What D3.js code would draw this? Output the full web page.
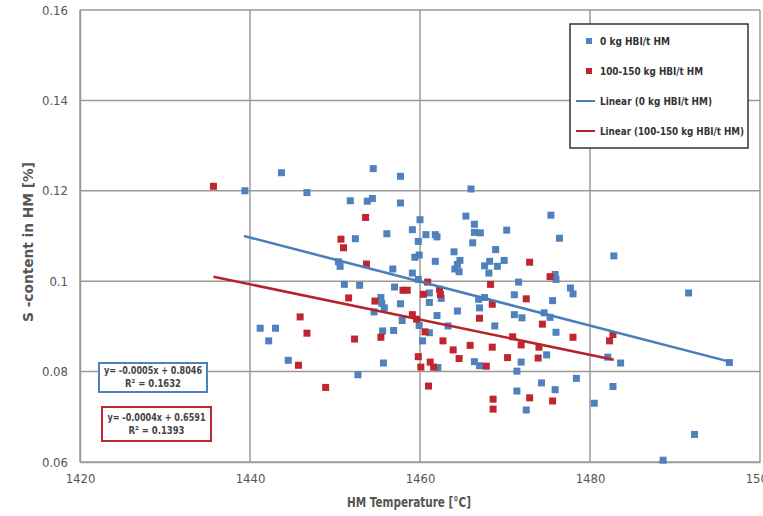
<!DOCTYPE html>
<html lang="en">
<head>
<meta charset="UTF-8">
<title>S-content in HM vs HM temperature</title>
<script src="https://d3js.org/d3.v7.min.js"></script>
<style>
    html, body {
        margin: 0;
        padding: 0;
        background: #fff;
        overflow: hidden;
    }
    svg text {
        font-family: "DejaVu Sans Condensed", "Liberation Sans Narrow", "Noto Sans", sans-serif;
    }
</style>
</head>
<body>
<svg id="chart" width="763" height="516"></svg>
<script>
// axis ticks
const xTicks = [1420, 1440, 1460, 1480, 1500];
const yTicks = [0.06, 0.08, 0.1, 0.12, 0.14, 0.16];

const seriesNames = ["0 kg HBI/t HM", "100-150 kg HBI/t HM"];
const trendNames = ["Linear (0 kg HBI/t HM)", "Linear (100-150 kg HBI/t HM)"];

// 0 kg HBI/t HM  [temperature, S %]
const zeroHBI = [
    [1439.4, 0.1200], [1443.7, 0.1240], [1446.7, 0.1196], [1454.5, 0.1249], [1457.7, 0.1232],
    [1451.8, 0.1178], [1453.8, 0.1177], [1454.4, 0.1183], [1457.7, 0.1173], [1456.1, 0.1105],
    [1452.4, 0.1094], [1450.4, 0.1043], [1450.6, 0.1033], [1456.8, 0.1027], [1451.1, 0.0993],
    [1452.9, 0.0991], [1457.0, 0.0987], [1455.4, 0.0964], [1455.5, 0.0951], [1455.8, 0.0941],
    [1454.6, 0.0932], [1441.2, 0.0896], [1443.0, 0.0896], [1442.2, 0.0868], [1455.6, 0.0890],
    [1456.9, 0.0891], [1444.5, 0.0825], [1455.7, 0.0819], [1452.7, 0.0793], [1466.0, 0.1204],
    [1475.4, 0.1146], [1465.4, 0.1144], [1466.4, 0.1126], [1460.0, 0.1136], [1459.1, 0.1114],
    [1460.7, 0.1103], [1461.8, 0.1103], [1462.0, 0.1098], [1466.4, 0.1108], [1467.1, 0.1107],
    [1470.2, 0.1113], [1476.4, 0.1095], [1459.8, 0.1088], [1466.2, 0.1085], [1459.9, 0.1058],
    [1459.4, 0.1053], [1464.0, 0.1065], [1468.9, 0.1070], [1461.8, 0.1044], [1464.7, 0.1046],
    [1464.4, 0.1037], [1464.1, 0.1027], [1464.6, 0.1021], [1468.2, 0.1044], [1467.6, 0.1034],
    [1469.1, 0.1033], [1469.9, 0.1046], [1468.1, 0.1018], [1459.1, 0.1018], [1475.9, 0.1015],
    [1476.0, 0.1004], [1459.8, 0.1004], [1471.6, 0.0998], [1471.1, 0.0970], [1477.7, 0.0985],
    [1478.0, 0.0972], [1466.9, 0.0960], [1467.6, 0.0964], [1475.6, 0.0957], [1461.1, 0.0974],
    [1462.5, 0.0962], [1457.7, 0.0950], [1457.9, 0.0913], [1459.9, 0.0902], [1462.0, 0.0924],
    [1464.4, 0.0934], [1461.1, 0.0953], [1467.0, 0.0941], [1471.1, 0.0926], [1472.0, 0.0919],
    [1474.6, 0.0930], [1475.3, 0.0920], [1468.8, 0.0901], [1463.3, 0.0901], [1461.1, 0.0886],
    [1460.3, 0.0868], [1476.0, 0.0887], [1474.9, 0.0837], [1471.9, 0.0821], [1471.4, 0.0801],
    [1466.4, 0.0822], [1467.0, 0.0813], [1462.1, 0.0809], [1478.4, 0.0785], [1474.3, 0.0775],
    [1475.9, 0.0760], [1471.4, 0.0757], [1472.5, 0.0715], [1482.8, 0.1056], [1491.6, 0.0974],
    [1482.1, 0.0832], [1483.6, 0.0819], [1496.4, 0.0820], [1482.7, 0.0767], [1480.5, 0.0730],
    [1492.3, 0.0661], [1488.6, 0.0604]
];

// 100-150 kg HBI/t HM  [temperature, S %]
const hbi100 = [
    [1435.7, 0.1210], [1453.6, 0.1141], [1450.7, 0.1093], [1451.0, 0.1074], [1453.7, 0.1038],
    [1451.6, 0.0963], [1454.7, 0.0956], [1445.9, 0.0921], [1446.7, 0.0885], [1452.3, 0.0872],
    [1455.4, 0.0876], [1445.7, 0.0814], [1448.9, 0.0765], [1472.9, 0.1042], [1475.3, 0.1010],
    [1460.9, 0.0998], [1458.0, 0.0980], [1458.5, 0.0980], [1462.3, 0.0982], [1462.4, 0.0971],
    [1460.4, 0.0971], [1468.3, 0.0993], [1472.5, 0.0961], [1468.5, 0.0949], [1459.1, 0.0926],
    [1459.6, 0.0916], [1467.0, 0.0918], [1474.4, 0.0905], [1460.6, 0.0888], [1462.7, 0.0868],
    [1463.9, 0.0848], [1465.9, 0.0858], [1464.6, 0.0829], [1468.5, 0.0854], [1470.9, 0.0877],
    [1471.9, 0.0859], [1474.0, 0.0854], [1478.0, 0.0876], [1473.9, 0.0830], [1470.3, 0.0831],
    [1467.8, 0.0812], [1459.8, 0.0833], [1460.1, 0.0810], [1461.2, 0.0821], [1461.6, 0.0810],
    [1461.0, 0.0768], [1472.9, 0.0742], [1475.6, 0.0735], [1468.6, 0.0739], [1468.6, 0.0717],
    [1482.7, 0.0882], [1482.3, 0.0868]
];

// linear trend end points
const trendZero = [[1439.3, 0.1100], [1496.4, 0.0822]];
const trendHbi = [[1435.7, 0.1010], [1482.8, 0.0826]];

const eqZero = ["y= -0.0005x + 0.8046", "R\u00B2 = 0.1632"];
const eqHbi = ["y= -0.0004x + 0.6591", "R\u00B2 = 0.1393"];

const blue = "#4f81bd", red = "#c0262d";
const blueLine = "#4a7ebb", redLine = "#b5242a";
const gridColor = "#9b9b9b", labelColor = "#555";

const svg = d3.select("#chart");
const x = d3.scaleLinear().domain([1420, 1500]).range([80, 760]);
const y = d3.scaleLinear().domain([0.06, 0.16]).range([462, 10]);

// grid
svg.append("g").selectAll("line").data(yTicks).enter().append("line")
    .attr("x1", 80).attr("x2", 760)
    .attr("y1", d => y(d)).attr("y2", d => y(d))
    .attr("stroke", gridColor).attr("stroke-width", 1.5);
svg.append("g").selectAll("line").data(xTicks).enter().append("line")
    .attr("x1", d => x(d)).attr("x2", d => x(d))
    .attr("y1", y(0.06)).attr("y2", y(0.16))
    .attr("stroke", gridColor).attr("stroke-width", 1.5);

// axes
const xAxis = svg.append("g").attr("transform", `translate(0,${y(0.06)})`)
    .call(d3.axisBottom(x).tickValues(xTicks).tickSize(0).tickPadding(12).tickFormat(d3.format("d")));
const yAxis = svg.append("g").attr("transform", `translate(${x(1420)},0)`)
    .call(d3.axisLeft(y).tickValues(yTicks).tickSize(0).tickPadding(12).tickFormat(d => String(+d.toFixed(2))));
[xAxis, yAxis].forEach(a => {
    a.select(".domain").attr("stroke", gridColor).attr("stroke-width", 1.5);
    a.selectAll("text").attr("fill", labelColor).style("font-size", "13px");
});

// axis titles
svg.append("text").attr("x", 409).attr("y", 507).attr("text-anchor", "middle")
    .attr("fill", labelColor).style("font-size", "14px").style("font-weight", "bold")
    .attr("textLength", 124).attr("lengthAdjust", "spacingAndGlyphs")
    .text("HM Temperature [\u00B0C]");
svg.append("text").attr("transform", "translate(33,242) rotate(-90)").attr("text-anchor", "middle")
    .attr("fill", labelColor).style("font-size", "14px").style("font-weight", "bold")
    .attr("textLength", 160).attr("lengthAdjust", "spacingAndGlyphs")
    .text("S -content in HM [%]");

// points
function drawPoints(data, color) {
    svg.append("g").selectAll("rect").data(data).enter().append("rect")
        .attr("x", d => x(d[0]) - 3.5).attr("y", d => y(d[1]) - 3.5)
        .attr("width", 7).attr("height", 7)
        .attr("fill", color);
}
drawPoints(zeroHBI, blue);
drawPoints(hbi100, red);

// trend lines
const line = d3.line().x(d => x(d[0])).y(d => y(d[1]));
svg.append("path").datum(trendZero).attr("d", line).attr("fill", "none")
    .attr("stroke", blueLine).attr("stroke-width", 2.5);
svg.append("path").datum(trendHbi).attr("d", line).attr("fill", "none")
    .attr("stroke", redLine).attr("stroke-width", 2.5);

// equation boxes
function eqBox(lines, color, bx, by, bw, bh, ty) {
    const g = svg.append("g").attr("transform", `translate(${bx},${by})`);
    g.append("rect").attr("width", bw).attr("height", bh)
        .attr("fill", "#fff").attr("stroke", color).attr("stroke-width", 2);
    lines.forEach((t, i) => {
        g.append("text").attr("x", bw / 2).attr("y", ty + i * 13)
            .attr("text-anchor", "middle").attr("fill", "#444")
            .style("font-size", "10px").style("font-weight", "bold")
            .attr("textLength", i === 0 ? 98 : 56).attr("lengthAdjust", "spacingAndGlyphs")
            .text(t);
    });
}
eqBox(eqZero, blue, 99, 363, 108, 29, 11);
eqBox(eqHbi, red, 102, 407, 109, 34, 14);

// legend
const lg = svg.append("g").attr("transform", "translate(570,24)");
lg.append("rect").attr("width", 178).attr("height", 124)
    .attr("fill", "#fff").attr("stroke", "#333").attr("stroke-width", 1.5);
const legendRows = [
    {name: seriesNames[0], color: blue, type: "point", w: 70},
    {name: seriesNames[1], color: red, type: "point", w: 103},
    {name: trendNames[0], color: blueLine, type: "line", w: 112},
    {name: trendNames[1], color: redLine, type: "line", w: 144}
];
legendRows.forEach((r, i) => {
    const ry = 17 + i * 30;
    if (r.type === "point") {
        lg.append("rect").attr("x", 16).attr("y", ry - 3).attr("width", 6).attr("height", 6).attr("fill", r.color);
    } else {
        lg.append("line").attr("x1", 6).attr("x2", 25).attr("y1", ry).attr("y2", ry)
            .attr("stroke", r.color).attr("stroke-width", 2);
    }
    lg.append("text").attr("x", 30).attr("y", ry).attr("dy", "0.35em")
        .attr("fill", "#333").style("font-size", "10.5px").style("font-weight", "bold")
        .attr("textLength", r.w).attr("lengthAdjust", "spacingAndGlyphs")
        .text(r.name);
});
</script>
</body>
</html>
